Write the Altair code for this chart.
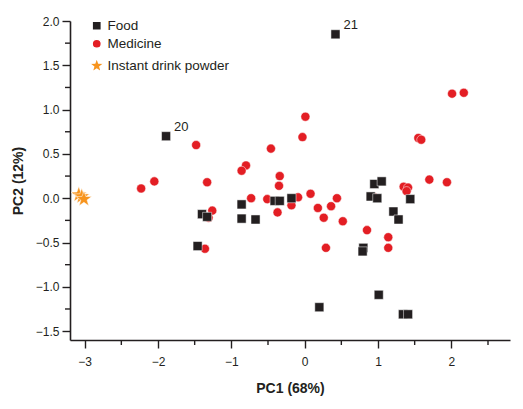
import altair as alt
import pandas as pd

categories = ["Food", "Medicine", "Instant drink powder"]
colors = ["#231f20", "#e31e24", "#f7941d"]
star_path = ("M0,-1.8L0.423,-0.583L1.712,-0.556L0.684,0.223L1.058,1.456L0,0.72"
             "L-1.058,1.456L-0.684,0.223L-1.712,-0.556L-0.423,-0.583Z")
shapes = ["square", "circle", star_path]

food_x = [-1.89, 0.42, -1.40, -1.33, -0.86, -0.86, -0.67, -0.41, -0.34, -1.46, -0.18,
          0.95, 1.05, 0.90, 0.99, 1.44, 1.21, 1.28, 0.80, 0.79, 1.01, 0.20, 1.34, 1.41]
food_y = [0.70, 1.85, -0.18, -0.21, -0.07, -0.23, -0.24, -0.03, -0.03, -0.54, 0.00,
          0.16, 0.19, 0.02, 0.00, -0.01, -0.15, -0.24, -0.56, -0.60, -1.09, -1.23, -1.31, -1.31]

med_x = [-2.23, -2.05, -1.48, -0.46, -0.80, -0.86, -1.33, -0.34, -0.35, -0.73, -0.51,
         -1.26, -1.31, -0.37, -1.36, 0.01, -0.03, -0.09, 0.08, -0.18, 0.44, 0.18, 0.36,
         0.26, 0.52, 0.85, 0.29, 0.93, 1.14, 1.14, 1.55, 1.59, 1.70, 1.94, 1.35, 1.41,
         1.39, 2.01, 2.17]
med_y = [0.11, 0.19, 0.60, 0.56, 0.37, 0.31, 0.18, 0.25, 0.14, 0.00, -0.01,
         -0.14, -0.22, -0.16, -0.57, 0.92, 0.69, 0.01, 0.05, -0.08, 0.00, -0.11, -0.09,
         -0.22, -0.26, -0.36, -0.56, 0.02, -0.44, -0.56, 0.68, 0.66, 0.21, 0.18, 0.13, 0.12,
         0.08, 1.18, 1.19]

drink_x = [-3.08, -3.04, -3.01]
drink_y = [0.04, 0.02, -0.01]

label_text = ["20", "21"]
label_x = [-1.89, 0.42]
label_y = [0.70, 1.85]

x_major = [-3, -2, -1, 0, 1, 2]
x_minor = [-2.5, -1.5, -0.5, 0.5, 1.5, 2.5]
y_major = [-1.5, -1.0, -0.5, 0.0, 0.5, 1.0, 1.5, 2.0]
y_minor = [-1.25, -0.75, -0.25, 0.25, 0.75, 1.25, 1.75]

df = pd.concat([
    pd.DataFrame({"PC1": med_x, "PC2": med_y, "group": "Medicine"}),
    pd.DataFrame({"PC1": food_x, "PC2": food_y, "group": "Food"}),
    pd.DataFrame({"PC1": drink_x, "PC2": drink_y, "group": "Instant drink powder"}),
], ignore_index=True)
labels_df = pd.DataFrame({"PC1": label_x, "PC2": label_y, "label": label_text})
xminor_df = pd.DataFrame({"v": x_minor})
yminor_df = pd.DataFrame({"v": y_minor})

W, H = 440, 319
xs = alt.Scale(domain=[-3.2, 2.8], nice=False, zero=False)
ys = alt.Scale(domain=[-1.6, 2.0], nice=False, zero=False)

x_axis = alt.Axis(title="PC1 (68%)", values=x_major, format="d",
                  tickSize=8, labelPadding=8, titlePadding=14)
y_axis = alt.Axis(title="PC2 (12%)", values=y_major, format=".1f",
                  tickSize=8, labelPadding=3, titlePadding=10)

legend = alt.Legend(title=None, orient="none", legendX=20, legendY=-2)

points = alt.Chart(df).mark_point(filled=True, opacity=1, size=82,
                                  stroke="white", strokeWidth=0.5).encode(
    x=alt.X("PC1:Q", scale=xs, axis=x_axis),
    y=alt.Y("PC2:Q", scale=ys, axis=y_axis),
    color=alt.Color("group:N", scale=alt.Scale(domain=categories, range=colors), legend=legend),
    shape=alt.Shape("group:N", scale=alt.Scale(domain=categories, range=shapes), legend=legend),
)

texts = alt.Chart(labels_df).mark_text(
    align="left", baseline="middle", dx=8, dy=-9, fontSize=13, color="#231f20"
).encode(
    x=alt.X("PC1:Q", scale=xs),
    y=alt.Y("PC2:Q", scale=ys),
    text="label:N",
)

xminor = alt.Chart(xminor_df).mark_rule(color="#231f20", strokeWidth=1.4, clip=False).encode(
    x=alt.X("v:Q", scale=xs),
    y=alt.value(H), y2=alt.value(H + 5),
)
yminor = alt.Chart(yminor_df).mark_rule(color="#231f20", strokeWidth=1.4, clip=False).encode(
    y=alt.Y("v:Q", scale=ys),
    x=alt.value(0), x2=alt.value(-5),
)

chart = alt.layer(points, texts, xminor, yminor).properties(
    width=W, height=H,
    padding={"left": 3, "top": 7, "right": 5, "bottom": 5},
).configure_view(stroke=None).configure_axis(
    grid=False,
    domainColor="#231f20", domainWidth=1.6,
    tickColor="#231f20", tickWidth=1.4,
    labelFont="Liberation Sans", labelFontSize=12, labelColor="#231f20",
    titleFont="Liberation Sans", titleFontSize=14, titleFontWeight="bold",
    titleColor="#231f20",
).configure_legend(
    labelFont="Liberation Sans", labelFontSize=13.5, labelColor="#231f20",
    symbolSize=85, rowPadding=2, labelOffset=4,
).configure_text(font="Liberation Sans")

chart.save("out.html", embed_options={"renderer": "svg", "actions": False})
